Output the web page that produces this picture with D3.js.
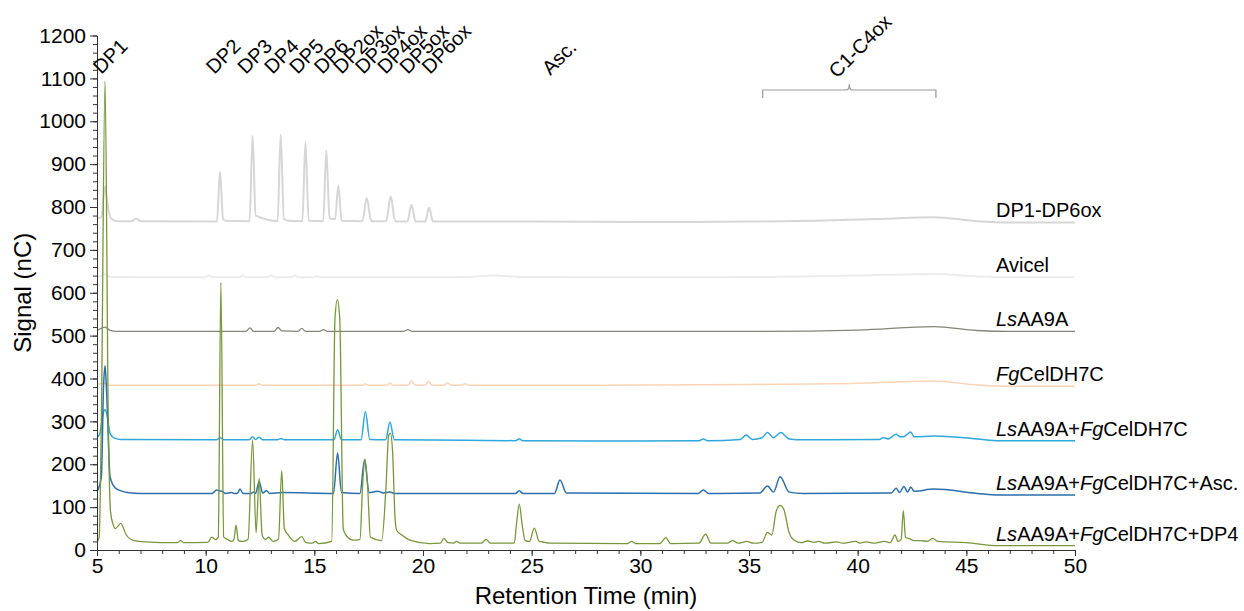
<!DOCTYPE html>
<html><head><meta charset="utf-8">
<script src="https://cdn.jsdelivr.net/npm/d3@7"></script>
<style>
body{margin:0;background:#fff;}
text{font-family:"Liberation Sans",Arial,Helvetica,sans-serif;fill:#000;}
</style>
</head><body>
<svg id="chart" width="1244" height="611"></svg>
<script>
// ---------------- DATA ----------------
const xTicks = [5,10,15,20,25,30,35,40,45,50];
const yTicks = [0,100,200,300,400,500,600,700,800,900,1000,1100,1200];

const seriesLabels = [
  "DP1-DP6ox",
  "Avicel",
  "LsAA9A",
  "FgCelDH7C",
  "LsAA9A+FgCelDH7C",
  "LsAA9A+FgCelDH7C+Asc.",
  "LsAA9A+FgCelDH7C+DP4"
];

// [retention time (min), signal (nC)]
const traceStandards = [
  [5.0,774],[5.2,776],[5.37,848],[5.5,801],[5.65,773],[5.9,767],[6.6,767],[6.8,773],[7.0,767],
  [10.52,766],[10.66,883],[10.8,772],[10.92,768],[12.02,767],[12.16,967],[12.3,780],[12.4,778],[12.6,774],[12.8,771],
  [13.31,767],[13.45,969],[13.6,772],[13.8,768],[14.45,767],[14.59,951],[14.74,768],[15.41,767],[15.55,932],[15.7,775],
  [15.82,772],[15.96,772],[16.1,850],[16.26,768],[17.21,767],[17.41,821],[17.62,767],[18.31,767],[18.51,825],[18.72,767],
  [19.28,766],[19.47,805],[19.66,766],[20.1,766],[20.28,799],[20.46,766],[25,766],[30,765],[35,766],[38,768],[41,772],
  [43.5,776],[45.5,767],[47,764],[50,764]
];
const traceAvicel = [
  [5.0,638],[5.2,639],[5.37,644],[5.6,637],[10.0,636],[10.15,640],[10.3,636],[11.55,636],[11.7,640],[11.85,636],
  [12.85,636],[13.0,641],[13.15,636],[13.95,636],[14.1,641],[14.25,636],[14.95,636],[15.1,639],[15.25,636],[20,636],
  [22,637],[23.3,640],[24.5,637],[30,636],[36,637],[40,640],[43.5,644],[45.5,638],[47,636],[50,636]
];
const traceLsAA9A = [
  [5.0,512],[5.15,516],[5.37,520],[5.6,512],[5.9,510],[11.85,510],[12.04,518],[12.2,510],[13.15,510],[13.33,519],
  [13.5,511],[14.25,510],[14.42,517],[14.6,510],[15.25,510],[15.42,514],[15.6,510],[19.1,510],[19.3,514],[19.5,510],
  [25,510],[35,510],[40,513],[43.5,521],[45.5,512],[47,510],[50,510]
];
const traceFgCelDH7C = [
  [5.0,386],[5.37,389],[5.6,384],[12.3,384],[12.46,388],[12.6,384],[17.2,384],[17.35,387],[17.5,384],[18.3,384],
  [18.48,389],[18.65,384],[19.3,384],[19.47,394],[19.65,384],[20.08,384],[20.25,393],[20.42,384],[20.95,384],
  [21.12,390],[21.3,384],[21.75,384],[21.93,388],[22.1,384],[28,384],[35,386],[40,389],[43.5,394],[45.5,385],
  [47,382],[50,382]
];
const traceLsFg = [
  [5.0,262],[5.15,275],[5.3,322],[5.37,327],[5.45,318],[5.6,272],[5.8,261],[6.1,258],[10.5,257],[10.67,262],
  [10.85,257],[12.0,257],[12.16,264],[12.3,258],[12.46,263],[12.62,257],[13.3,257],[13.47,260],[13.62,257],
  [15.9,257],[16.07,280],[16.25,257],[17.15,257],[17.35,323],[17.55,258],[18.28,257],[18.48,298],[18.68,257],
  [22,256],[24.25,255],[24.43,259],[24.6,255],[28,254],[32.7,255],[32.9,259],[33.1,255],[34.6,258],[34.87,268],
  [35.15,258],[35.6,262],[35.85,274],[36.13,262],[36.46,274],[36.85,259],[37.5,257],[41.0,258],[41.18,262],
  [41.4,259],[41.77,270],[41.95,264],[42.1,264],[42.44,275],[42.6,264],[43.5,266],[45.5,259],[46.5,255],[50,255]
];
const traceLsFgAsc = [
  [5.0,136],[5.2,170],[5.3,380],[5.37,430],[5.45,360],[5.6,171],[5.83,145],[6.1,138],[6.4,134],[7,132],
  [10.3,132],[10.5,140],[10.62,138],[10.75,137],[10.9,132],[11.2,134],[11.3,132],[11.45,132],[11.58,142],
  [11.72,132],[12.1,132],[12.2,135],[12.3,132],[12.46,160],[12.62,133],[12.8,138],[12.95,132],[13.5,134],
  [15.88,132],[16.07,226],[16.25,134],[17.1,132],[17.31,210],[17.52,134],[17.9,137],[18.2,133],[18.48,135],[18.7,132],
  [24.25,132],[24.43,138],[24.6,132],[26.05,132],[26.3,163],[26.6,133],[32.65,132],[32.9,140],[33.15,132],
  [35.5,133],[35.85,149],[36.13,135],[36.43,171],[36.85,135],[37.5,132],[41.55,133],[41.77,144],[41.93,134],
  [42.13,148],[42.3,135],[42.44,147],[42.6,137],[43.5,142],[45.5,132],[46.5,128],[50,128]
];
const traceLsFgDP4 = [
  [5.0,19],[5.1,30],[5.2,300],[5.37,1093],[5.52,300],[5.62,90],[5.75,58],[5.85,50],[6.09,62],[6.35,35],[6.7,22],
  [7.2,19],[8.7,17],[8.85,22],[9.0,17],[10.1,18],[10.28,30],[10.45,24],[10.58,30],[10.7,624],[10.83,30],[11.0,25],
  [11.2,20],[11.3,25],[11.4,58],[11.5,22],[11.7,20],[11.95,25],[12.16,257],[12.32,40],[12.46,167],[12.6,35],
  [12.75,25],[12.9,30],[13.1,20],[13.35,25],[13.5,185],[13.62,50],[13.8,35],[14.1,20],[14.42,31],[14.6,18],
  [14.9,16],[15.05,20],[15.2,15],[15.8,20],[15.95,540],[16.06,584],[16.17,540],[16.33,50],[16.45,35],[16.8,23],
  [17.1,25],[17.22,150],[17.33,212],[17.45,150],[17.58,30],[18.1,22],[18.3,150],[18.42,268],[18.5,272],[18.6,230],
  [18.72,70],[18.8,45],[19.0,36],[19.4,23],[20.3,15],[20.8,16],[20.96,27],[21.15,17],[21.4,16],[21.55,20],[21.7,16],
  [22.7,16],[22.9,25],[23.1,16],[24.2,16],[24.3,60],[24.43,107],[24.56,60],[24.7,22],[24.9,20],[25.12,51],[25.35,20],
  [25.6,18],[25.8,16],[29.4,15],[29.6,20],[29.8,15],[30.9,15],[31.17,29],[31.4,15],[32.7,16],[33.0,37],[33.25,16],
  [34.0,16],[34.25,22],[34.5,16],[34.9,20],[35.2,16],[35.6,18],[35.85,41],[36.05,35],[36.25,90],[36.43,104],
  [36.6,95],[36.85,40],[37.1,22],[37.4,17],[37.7,21],[38.0,18],[38.2,20],[38.5,16],[39.04,19],[39.3,16],[39.9,20],
  [40.1,16],[40.4,19],[40.7,16],[41.25,20],[41.5,17],[41.72,35],[41.85,20],[42.0,25],[42.1,92],[42.2,30],[42.4,26],
  [42.6,22],[42.9,22],[43.2,20],[43.45,27],[43.7,20],[45.0,17],[46.5,10],[50,10]
];

const peakLabels = ["DP1","DP2","DP3","DP4","DP5","DP6","DP2ox","DP3ox","DP4ox","DP5ox","DP6ox","Asc."];
const peakLabelTimes = [5.2,10.4,11.85,13.08,14.22,15.36,16.25,17.25,18.28,19.3,20.32,25.85];
const groupLabel = "C1-C4ox";
const groupRange = [35.63, 43.6];
const groupLabelTime = 39.05;

// ---------------- STYLE ----------------
const traces = [traceStandards, traceAvicel, traceLsAA9A, traceFgCelDH7C, traceLsFg, traceLsFgAsc, traceLsFgDP4];
const colors = ["#d6d6d6","#ececec","#85857a","#fcd3b5","#2ea7dd","#2a6fa9","#78963b"];
const widths = [2, 2, 1.3, 1.5, 1.5, 1.5, 1.3];

// ---------------- CHART ----------------
const svg = d3.select("#chart");
const x = d3.scaleLinear().domain([5,50]).range([97,1075]);
const y = d3.scaleLinear().domain([0,1200]).range([550,35.5]);
const line = d3.line().x(d=>x(d[0])).y(d=>y(d[1])).curve(d3.curveMonotoneX);

traces.forEach((tr,i)=>{
  svg.append("path").attr("d", line(tr)).attr("fill","none")
    .attr("stroke", colors[i]).attr("stroke-width", widths[i]).attr("stroke-linejoin","round");
});

// series labels
traces.forEach((tr,i)=>{
  const last = tr[tr.length-1];
  const t = svg.append("text").attr("x", 996).attr("y", y(last[1]) - 5).style("font-size","20px");
  seriesLabels[i].split(/(Ls|Fg)/).filter(s=>s.length).forEach(part=>{
    t.append("tspan").text(part).style("font-style", (part==="Ls"||part==="Fg") ? "italic" : "normal");
  });
});

// axes
const axisColor = "#333";
const gyMinor = svg.append("g").attr("transform",`translate(${x(5)},0)`)
  .call(d3.axisLeft(y).tickValues(d3.range(0,1201,20)).tickSize(4).tickSizeOuter(0).tickFormat(""));
const gy = svg.append("g").attr("transform",`translate(${x(5)},0)`)
  .call(d3.axisLeft(y).tickValues(yTicks).tickSize(7).tickSizeOuter(0).tickPadding(4).tickFormat(d3.format("d")));
const gxMinor = svg.append("g").attr("transform",`translate(0,${y(0)})`)
  .call(d3.axisBottom(x).tickValues(d3.range(5,51,1)).tickSize(4).tickSizeOuter(0).tickFormat(""));
const gx = svg.append("g").attr("transform",`translate(0,${y(0)})`)
  .call(d3.axisBottom(x).tickValues(xTicks).tickSize(6).tickSizeOuter(0).tickPadding(2).tickFormat(d3.format("d")));
[gyMinor,gy,gxMinor,gx].forEach(g=>{
  g.selectAll("path,line").attr("stroke",axisColor).attr("stroke-width",1);
  g.selectAll("text").style("font-size","21px").attr("fill","#000")
    .style("font-family",'"Liberation Sans",Arial,sans-serif');
});

svg.append("text").attr("x",(x(5)+x(50))/2).attr("y",604).attr("text-anchor","middle")
  .style("font-size","24px").text("Retention Time (min)");
svg.append("text").attr("transform",`translate(31,${(y(0)+y(1200))/2}) rotate(-90)`)
  .attr("text-anchor","middle").style("font-size","24px").text("Signal (nC)");

// peak labels
peakLabels.forEach((lab,i)=>{
  const ly = lab==="Asc." ? 76 : 75;
  svg.append("text").attr("transform",`translate(${x(peakLabelTimes[i])},${ly}) rotate(-45)`)
    .style("font-size","20px").text(lab);
});

// group bracket
const bx0 = x(groupRange[0]), bx1 = x(groupRange[1]), bxm = (bx0+bx1)/2;
svg.append("path")
  .attr("d",`M${bx0},98 L${bx0},90 L${bxm-3},90 Q${bxm},90 ${bxm},84 Q${bxm},90 ${bxm+3},90 L${bx1},90 L${bx1},98`)
  .attr("fill","none").attr("stroke","#999").attr("stroke-width",1.2);
svg.append("text").attr("transform",`translate(${x(groupLabelTime)},79) rotate(-45)`)
  .style("font-size","20px").text(groupLabel);
</script>
</body></html>
